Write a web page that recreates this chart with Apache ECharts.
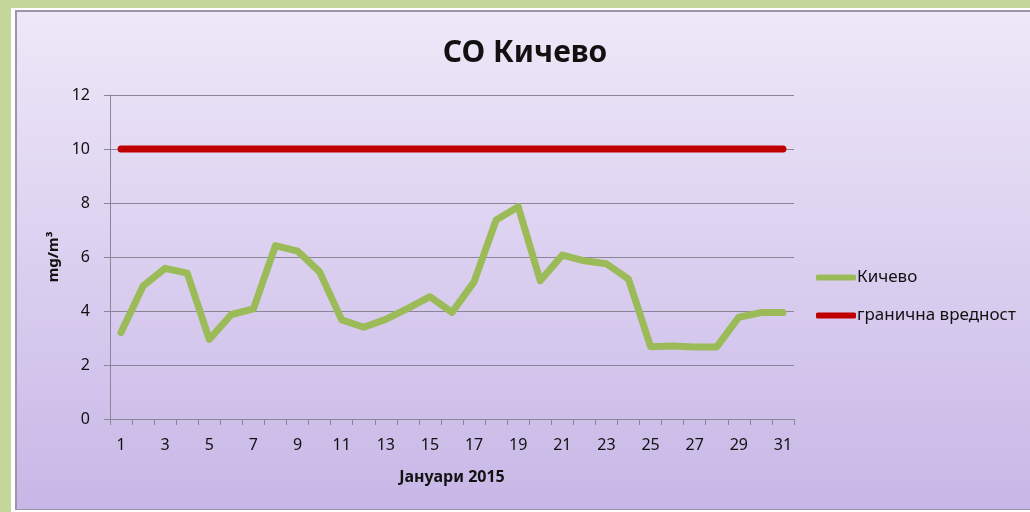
<!DOCTYPE html>
<html>
<head>
<meta charset="utf-8">
<script src="https://cdn.jsdelivr.net/npm/echarts@6/dist/echarts.min.js"></script>
<style>
html,body{margin:0;padding:0;background:#c4d79b;}
#chart{width:1030px;height:512px;}
</style>
</head>
<body>
<div id="chart"></div>
<script>
const days = ['1','2','3','4','5','6','7','8','9','10','11','12','13','14','15','16','17','18','19','20','21','22','23','24','25','26','27','28','29','30','31'];
const kichevo = [3.2,4.93,5.58,5.4,2.95,3.87,4.08,6.42,6.22,5.45,3.67,3.4,3.69,4.1,4.53,3.95,5.08,7.37,7.86,5.12,6.07,5.86,5.75,5.18,2.68,2.7,2.67,2.67,3.77,3.94,3.94];
const limit = [10,10,10,10,10,10,10,10,10,10,10,10,10,10,10,10,10,10,10,10,10,10,10,10,10,10,10,10,10,10,10];

const font = '"Noto Sans", "DejaVu Sans", sans-serif';
const chart = echarts.init(document.getElementById('chart'));
chart.setOption({
  backgroundColor: '#c4d79b',
  animation: false,
  graphic: [
    {type:'rect', z:-10, silent:true, shape:{x:11,y:8,width:1019,height:504}, style:{fill:'#ffffff'}},
    {type:'rect', z:-9, silent:true, shape:{x:15,y:10,width:1015,height:500},
      style:{fill:'#9c94ac'}},
    {type:'rect', z:-8, silent:true, shape:{x:17,y:12,width:1013,height:497},
      style:{fill:new echarts.graphic.LinearGradient(0,0,0,1,[{offset:0,color:'#eee8f8'},{offset:1,color:'#c8b7e7'}])}}
  ],
  title: {
    text: 'CO Кичево', left: 520, top: 33, textAlign: 'center',
    textStyle: {fontFamily: font, fontSize: 30, fontWeight: 'bold', color: '#111'}
  },
  legend: {
    orient: 'vertical', left: 811, top: 264, itemWidth: 40, itemHeight: 6, itemGap: 21,
    icon: 'roundRect',
    textStyle: {fontFamily: font, fontSize: 17, color: '#111', padding:[0,0,0,-4]},
    data: ['Кичево', 'гранична вредност']
  },
  grid: {left: 110, right: 236, top: 95, bottom: 93},
  xAxis: {
    type: 'category', data: days, boundaryGap: true,
    name: 'Јануари 2015', nameLocation: 'middle', nameGap: 50,
    nameTextStyle: {fontFamily: font, fontSize: 16, fontWeight: 'bold', color: '#111'},
    axisLine: {lineStyle: {color: '#8a8698'}},
    axisTick: {show: true, interval: 0, length: 6, lineStyle: {color: '#8a8698'}},
    axisLabel: {interval: 1, fontFamily: font, fontSize: 16, color: '#111', margin: 18},
    splitLine: {show: false}
  },
  yAxis: {
    type: 'value', min: 0, max: 12, interval: 2,
    name: 'mg/m³', nameLocation: 'middle', nameGap: 48, nameRotate: 90,
    nameTextStyle: {fontFamily: font, fontSize: 15, fontWeight: 'bold', color: '#111'},
    axisLine: {show: true, lineStyle: {color: '#8a8698'}},
    axisTick: {show: true, length: 6, lineStyle: {color: '#8a8698'}},
    axisLabel: {fontFamily: font, fontSize: 16, color: '#111', margin: 20},
    splitLine: {lineStyle: {color: '#8a8698', width: 1}}
  },
  series: [
    {name: 'Кичево', type: 'line', data: kichevo, symbol: 'none',
     lineStyle: {color: '#9bbb59', width: 7, join: 'round', cap: 'round'}, itemStyle: {color: '#9bbb59'}},
    {name: 'гранична вредност', type: 'line', data: limit, symbol: 'none',
     lineStyle: {color: '#c00000', width: 7, cap: 'round'}, itemStyle: {color: '#c00000'}}
  ]
});
</script>
</body>
</html>
